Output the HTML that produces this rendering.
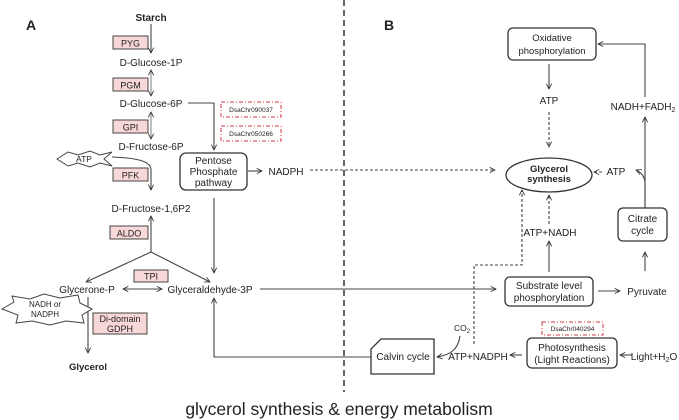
<!DOCTYPE html>
<html><head><meta charset="utf-8"><style>
html,body{margin:0;padding:0;background:#fff;}
svg{display:block;font-family:"Liberation Sans",Arial,sans-serif;}
</style></head><body>
<svg width="679" height="420" viewBox="0 0 679 420" xmlns="http://www.w3.org/2000/svg">
<defs>
<marker id="a" viewBox="0 0 10 10" refX="9" refY="5" markerWidth="6" markerHeight="6" orient="auto-start-reverse"><path d="M1,1 L9,5 L1,9" fill="none" stroke="#333" stroke-width="1.3"/></marker>
</defs>
<g fill="none" stroke="#444" stroke-width="1.1">
<line x1="344" y1="0" x2="344" y2="392" stroke="#222" stroke-width="1.4" stroke-dasharray="6,4"/>
<line x1="151" y1="24" x2="151" y2="53" marker-end="url(#a)"/>
<line x1="151" y1="70" x2="151" y2="96" marker-start="url(#a)" marker-end="url(#a)" stroke="#888"/>
<line x1="151" y1="112" x2="151" y2="139" marker-start="url(#a)" marker-end="url(#a)" stroke="#888"/>
<path d="M112,157 C140,158 151,162 151,170 L151,190" marker-end="url(#a)"/>
<line x1="151" y1="252" x2="151" y2="216" marker-end="url(#a)"/>
<line x1="151" y1="252" x2="86" y2="282" marker-end="url(#a)"/>
<line x1="151" y1="252" x2="210" y2="282" marker-end="url(#a)"/>
<line x1="123" y1="289" x2="162" y2="289" marker-start="url(#a)" marker-end="url(#a)"/>
<line x1="88" y1="297" x2="88" y2="353" marker-end="url(#a)"/>
<path d="M188,103 L214,103 L214,150" marker-end="url(#a)"/>
<line x1="214" y1="198" x2="214" y2="273" marker-end="url(#a)"/>
<line x1="248" y1="171" x2="262" y2="171" marker-end="url(#a)"/>
<line x1="310" y1="170" x2="495" y2="170" stroke-dasharray="3,2" marker-end="url(#a)"/>
<line x1="260" y1="289" x2="496" y2="289" marker-end="url(#a)"/>
<path d="M371,357 L214,357 L214,298" marker-end="url(#a)"/>
<line x1="549" y1="64" x2="549" y2="89" marker-end="url(#a)"/>
<line x1="549" y1="112" x2="549" y2="147" stroke-dasharray="3,2" marker-end="url(#a)"/>
<line x1="602" y1="172" x2="594" y2="172" stroke-dasharray="3,2" marker-end="url(#a)"/>
<path d="M645,208 L645,183 C645,177 641,172 636,170" marker-end="url(#a)"/>
<line x1="645" y1="208" x2="645" y2="117" marker-end="url(#a)"/>
<path d="M645,97 L645,44 L598,44" marker-end="url(#a)"/>
<line x1="645" y1="271" x2="645" y2="252" marker-end="url(#a)"/>
<line x1="598" y1="291" x2="620" y2="291" marker-end="url(#a)"/>
<line x1="549" y1="272" x2="549" y2="241" marker-end="url(#a)"/>
<line x1="549" y1="224" x2="549" y2="195" stroke-dasharray="3,2" marker-end="url(#a)"/>
<path d="M474,344 L474,265 L522,265 L522,190" stroke-dasharray="3,2" marker-end="url(#a)"/>
<path d="M460,336 C458,350 450,355 437,357" marker-end="url(#a)"/>
<line x1="522" y1="355" x2="510" y2="355" marker-end="url(#a)"/>
<line x1="632" y1="355" x2="620" y2="355" marker-end="url(#a)"/>
</g>
<g fill="#f7d7d7" stroke="#444" stroke-width="1">
<rect x="113" y="36" width="35" height="13"/>
<rect x="113" y="78" width="35" height="13"/>
<rect x="113" y="120" width="35" height="13"/>
<rect x="113" y="168" width="35" height="13"/>
<rect x="110" y="226" width="38" height="13"/>
<rect x="134" y="270" width="34" height="12"/>
<rect x="93" y="313" width="54" height="21"/>
</g>
<g fill="none" stroke="#d23a4a" stroke-width="1" stroke-dasharray="4,2,1,2">
<rect x="221" y="102" width="60" height="15"/>
<rect x="221" y="126" width="60" height="15"/>
<rect x="542" y="322" width="61" height="13"/>
</g>
<g fill="#fff" stroke="#444" stroke-width="1">
<polygon points="57,159 68,152 78,155 90,151 100,155 112,152 104,159 112,166 100,163 90,167 78,163 68,166"/>
<polygon points="2,309 14,302 12,296 30,299 44,294 60,298 78,295 80,303 92,309 82,315 84,323 66,321 50,325 32,321 16,323 18,315"/>
</g>
<g fill="#fff" stroke="#333" stroke-width="1.3">
<rect x="180" y="153" width="67" height="37" rx="6"/>
<rect x="508" y="28" width="88" height="32" rx="5"/>
<rect x="618" y="208" width="49" height="33" rx="5"/>
<rect x="505" y="277" width="88" height="29" rx="5"/>
<rect x="527" y="338" width="90" height="30" rx="5"/>
<path d="M381,339 L434,339 L434,374 L371,374 L371,349 Z"/>
<ellipse cx="549" cy="175" rx="43" ry="17"/>
</g>
<g fill="#222" font-size="10" text-anchor="middle">
<text x="26" y="30" font-size="14" font-weight="bold" text-anchor="start">A</text>
<text x="384" y="30" font-size="14" font-weight="bold" text-anchor="start">B</text>
<text x="151" y="21" font-weight="bold">Starch</text>
<text x="130.5" y="46.5" font-size="9">PYG</text>
<text x="130.5" y="88.5" font-size="9">PGM</text>
<text x="130.5" y="130.5" font-size="9">GPI</text>
<text x="130.5" y="178.5" font-size="9">PFK</text>
<text x="129" y="236.5" font-size="9">ALDO</text>
<text x="151" y="279.5" font-size="9">TPI</text>
<text x="120" y="322" font-size="9">Di-domain</text>
<text x="120" y="332" font-size="9">GDPH</text>
<text x="151" y="66">D-Glucose-1P</text>
<text x="151" y="107">D-Glucose-6P</text>
<text x="151" y="150">D-Fructose-6P</text>
<text x="151" y="212">D-Fructose-1,6P2</text>
<text x="84" y="162" font-size="8.5">ATP</text>
<text x="45" y="307" font-size="8">NADH or</text>
<text x="45" y="317" font-size="8">NADPH</text>
<text x="87" y="293">Glycerone-P</text>
<text x="210" y="293">Glyceraldehyde-3P</text>
<text x="88" y="370" font-weight="bold" font-size="9.5">Glycerol</text>
<text x="251" y="112" font-size="6.5">DsaChr090037</text>
<text x="251" y="136" font-size="6.5">DsaChr050266</text>
<text x="572.5" y="331" font-size="6.5">DsaChr040294</text>
<text x="213.5" y="164">Pentose</text>
<text x="213.5" y="175">Phosphate</text>
<text x="213.5" y="186">pathway</text>
<text x="286" y="175">NADPH</text>
<text x="552" y="41" font-size="9.5">Oxidative</text>
<text x="552" y="54" font-size="9.5">phosphorylation</text>
<text x="549" y="104">ATP</text>
<text x="549" y="172" font-weight="bold" font-size="9.5">Glycerol</text>
<text x="549" y="182" font-weight="bold" font-size="9.5">synthesis</text>
<text x="616" y="175">ATP</text>
<text x="643" y="110">NADH+FADH<tspan font-size="7" dy="2">2</tspan></text>
<text x="642.5" y="222">Citrate</text>
<text x="642.5" y="234">cycle</text>
<text x="550" y="236">ATP+NADH</text>
<text x="549" y="289">Substrate level</text>
<text x="549" y="301">phosphorylation</text>
<text x="647" y="295">Pyruvate</text>
<text x="572" y="351">Photosynthesis</text>
<text x="572" y="363">(Light Reactions)</text>
<text x="654" y="360">Light+H<tspan font-size="7" dy="2">2</tspan><tspan dy="-2">O</tspan></text>
<text x="403" y="360">Calvin cycle</text>
<text x="478" y="360">ATP+NADPH</text>
<text x="462" y="331" font-size="8.5">CO<tspan font-size="6" dy="2">2</tspan></text>
<text x="339" y="415" font-size="17.5">glycerol synthesis &amp; energy metabolism</text>
</g>
</svg>
</body></html>
